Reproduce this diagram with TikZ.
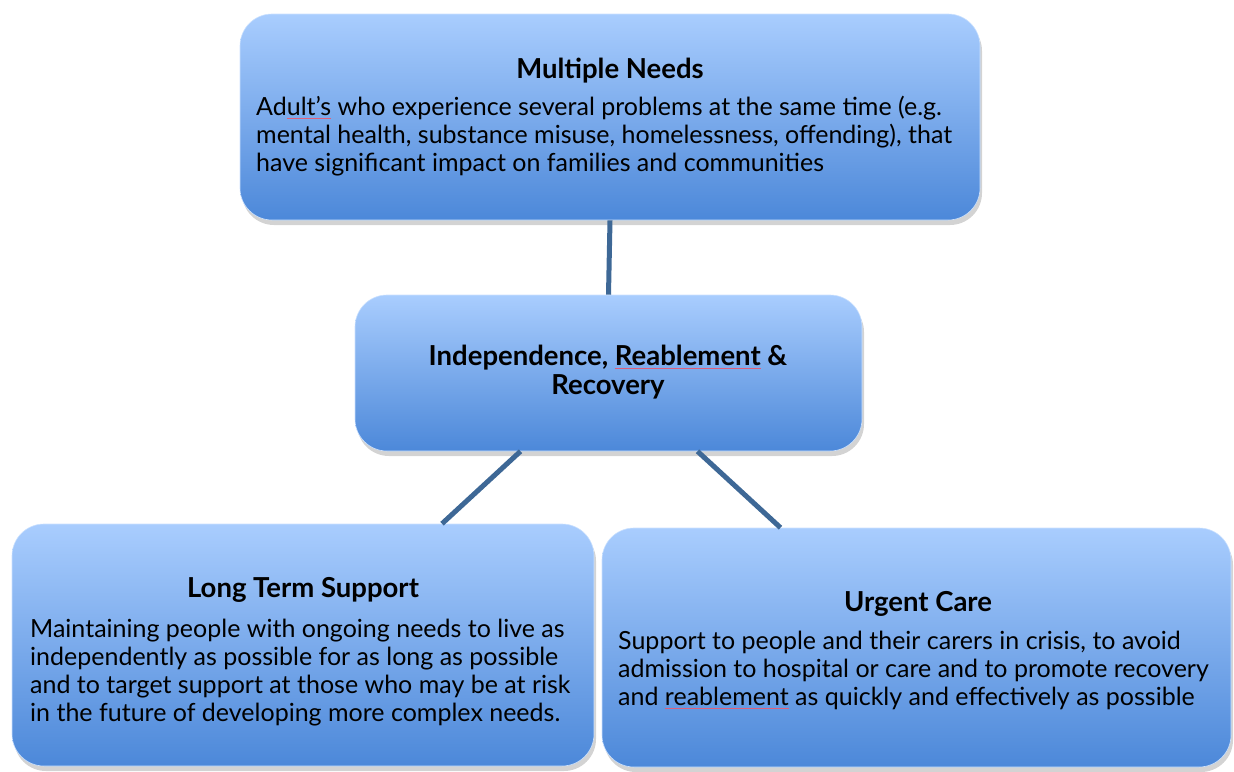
\documentclass[tikz,border=0pt]{standalone}
\usepackage{fontspec}
\setmainfont{Lato}
\usepackage{xcolor}
\usetikzlibrary{shadows}

\definecolor{boxtop}{HTML}{A9CDFE}
\definecolor{boxbot}{HTML}{4C88D9}
\definecolor{linkblue}{HTML}{3E6896}
\definecolor{spellred}{HTML}{E0607A}

% spell-check mark under a word
\newcommand{\squig}[1]{{\setbox0\hbox{#1}\rlap{\textcolor{spellred}{\rule[-3.5pt]{\wd0}{0.6pt}}}\box0}}

\tikzset{
  box/.style={rounded corners=32pt, top color=boxtop, bottom color=boxbot,
    draw=boxtop!60!white, line width=0.6pt,
    drop shadow={opacity=0.35, shadow xshift=2pt, shadow yshift=-5pt}},
  title/.style={font=\fontsize{27.5}{29}\selectfont\bfseries, align=center, inner sep=0pt},
  body/.style={font=\fontsize{25}{28}\selectfont, align=left, inner sep=0pt, anchor=west},
  link/.style={draw=linkblue, line width=5pt}
}

\begin{document}
\begin{tikzpicture}[x=1pt,y=-1pt]
\useasboundingbox (0,0) rectangle (1234,771);

\node[box, minimum width=740pt, minimum height=206pt] (needs) at (610,117) {};
\node[box, minimum width=507pt, minimum height=156pt] (irr) at (608.5,373) {};
\node[box, minimum width=582pt, minimum height=242pt] (lts) at (303,645) {};
\node[box, minimum width=629pt, minimum height=239pt] (uc) at (916.5,647.5) {};

\draw[link] (needs.south) -- (irr.north);
\draw[link] ([xshift=-88pt]irr.south) -- ([xshift=139pt]lts.north);
\draw[link] ([xshift=89pt]irr.south) -- ([xshift=-136pt]uc.north);

\node[title] (needs-t) at (610,71) {Multiple Needs};
\node[body] (needs-b) at (256,136) {Ad\squig{ult’s} who experience several problems at the same time (e.g.\\
  mental health, substance misuse, homelessness, offending), that\\
  have significant impact on families and communities};

\node[title] (irr-t) at (608,372) {Independence, \squig{Reablement} \&\\ Recovery};

\node[title] (lts-t) at (303,590) {Long Term Support};
\node[body] (lts-b) at (30,673) {Maintaining people with ongoing needs to live as\\
  independently as possible for as long as possible\\
  and to target support at those who may be at risk\\
  in the future of developing more complex needs.};

\node[title] (uc-t) at (918,604) {Urgent Care};
\node[body] (uc-b) at (618,670) {Support to people and their carers in crisis, to avoid\\
  admission to hospital or care and to promote recovery\\
  and \squig{reablement} as quickly and effectively as possible};
\end{tikzpicture}
\end{document}
